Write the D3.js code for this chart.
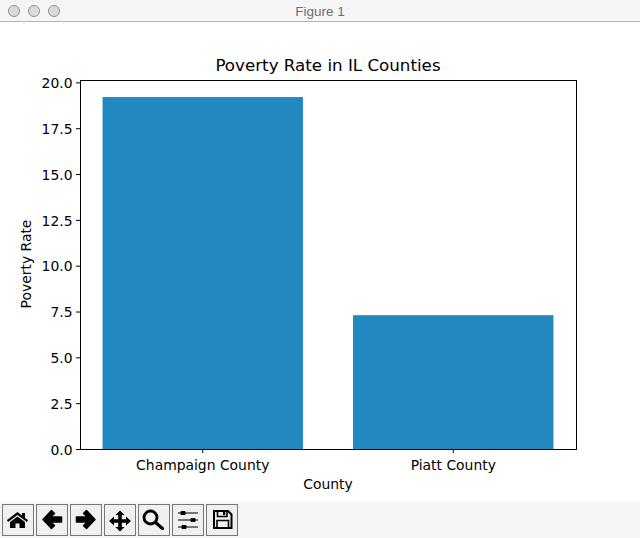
<!DOCTYPE html>
<html>
<head>
<meta charset="utf-8">
<script src="https://cdn.jsdelivr.net/npm/d3@7"></script>
<style>
  html, body { margin: 0; padding: 0; background: #fff; overflow: hidden; }
</style>
</head>
<body>
<div id="grafico"></div>
<script>
// Data
const counties = ["Champaign County", "Piatt County"];
const povertyRates = [19.2, 7.3];
const yTicks = [0, 2.5, 5, 7.5, 10, 12.5, 15, 17.5, 20];
const yMax = 20.13;

const ancho = 640, alto = 538;
const margen = { top: 80, right: 64, bottom: 89, left: 80 };
const fuente = "'DejaVu Sans', sans-serif";

const svg = d3.select("#grafico").append("svg")
    .attr("width", ancho)
    .attr("height", alto)
    .style("display", "block");

// Window chrome
svg.append("rect").attr("width", ancho).attr("height", 22).attr("fill", "#f6f6f6");
svg.append("line").attr("x1", 0).attr("x2", ancho).attr("y1", 21.5).attr("y2", 21.5).attr("stroke", "#b4b4b4");
[14, 34, 54].forEach(cx => {
    svg.append("circle").attr("cx", cx).attr("cy", 11).attr("r", 5.5)
        .attr("fill", "#dcdcdc").attr("stroke", "#8f8f8f");
});
svg.append("text").attr("x", 320).attr("y", 15.5).attr("text-anchor", "middle")
    .style("font-family", "'Liberation Sans', sans-serif").style("font-size", "13.5px")
    .attr("fill", "#6e6e6e").text("Figure 1");

// Toolbar
svg.append("rect").attr("y", 502).attr("width", ancho).attr("height", 36).attr("fill", "#f5f5f5");

const iconos = [
    // home
    g => {
        g.append("path").attr("d", "M5 16 L15.5 8 L20 11.5 V9 H23 V14 L26 16 L25 18 L15.5 11 L6 18 Z");
        g.append("path").attr("d", "M8 18 L15.5 12.5 L23 18 V24 H17.5 V19.5 H13.5 V24 H8 Z");
    },
    // back
    g => g.append("path").attr("d", "M7 15.5 L15.5 6.5 L18.5 9.5 L14.5 13 H25.5 V18 H14.5 L18.5 21.5 L15.5 24.5 Z").attr("stroke", "#000").attr("stroke-width", 1.5).attr("stroke-linejoin", "round"),
    // forward
    g => g.append("path").attr("d", "M25 15.5 L16.5 6.5 L13.5 9.5 L17.5 13 H6.5 V18 H17.5 L13.5 21.5 L16.5 24.5 Z").attr("stroke", "#000").attr("stroke-width", 1.5).attr("stroke-linejoin", "round"),
    // move
    g => g.append("path").attr("d", "M16 6.5 L20.5 11 H17.8 V15.2 H22 V12.5 L27 17 L22 21.5 V18.8 H17.8 V23 H20.5 L16 27.5 L11.5 23 H14.2 V18.8 H10 V21.5 L5 17 L10 12.5 V15.2 H14.2 V11 H11.5 Z"),
    // zoom
    g => {
        g.append("circle").attr("cx", 12.5).attr("cy", 13.5).attr("r", 6.5).attr("fill", "none").attr("stroke", "#000").attr("stroke-width", 2.8);
        g.append("line").attr("x1", 17.5).attr("y1", 18.5).attr("x2", 24.5).attr("y2", 24.5).attr("stroke", "#000").attr("stroke-width", 3.2).attr("stroke-linecap", "round");
    },
    // sliders
    g => {
        [[9, 11], [16, 21], [23, 12]].forEach(([y, x]) => {
            g.append("line").attr("x1", 6).attr("x2", 26).attr("y1", y).attr("y2", y).attr("stroke", "#222").attr("stroke-width", 1.2);
            g.append("rect").attr("x", x - 2.5).attr("y", y - 2).attr("width", 5).attr("height", 4).attr("rx", 1);
        });
    },
    // save
    g => {
        g.append("path").attr("d", "M8 7 H22 L25.5 10.5 V24 H8 Z").attr("fill", "none").attr("stroke", "#000").attr("stroke-width", 2);
        g.append("path").attr("d", "M11.5 7 V12.5 H21 V7").attr("fill", "none").attr("stroke", "#000").attr("stroke-width", 1.6);
        g.append("rect").attr("x", 17).attr("y", 8).attr("width", 2.2).attr("height", 3);
        g.append("path").attr("d", "M11 24 V16.5 H22.5 V24").attr("fill", "none").attr("stroke", "#000").attr("stroke-width", 1.6);
    }
];
iconos.forEach((dibujar, i) => {
    const g = svg.append("g").attr("transform", `translate(${2 + i * 34},504)`);
    g.append("rect").attr("x", 0.5).attr("y", 0.5).attr("width", 31).attr("height", 31)
        .attr("fill", "#f0f0f0").attr("stroke", "#777");
    dibujar(g);
});

// Scales
const escalaX = d3.scaleBand()
    .domain(counties)
    .range([margen.left, ancho - margen.right])
    .paddingInner(0.2)
    .paddingOuter(0.09);

const escalaY = d3.scaleLinear()
    .domain([0, yMax])
    .range([alto - margen.bottom, margen.top]);

// Bars
svg.selectAll("rect.barra")
    .data(counties)
    .enter()
    .append("rect")
    .attr("class", "barra")
    .attr("x", d => escalaX(d))
    .attr("y", (d, i) => escalaY(povertyRates[i]))
    .attr("width", escalaX.bandwidth())
    .attr("height", (d, i) => escalaY(0) - escalaY(povertyRates[i]))
    .attr("fill", "#2288c0");

// Axes
const ejeX = svg.append("g")
    .attr("transform", `translate(0,${alto - margen.bottom})`)
    .call(d3.axisBottom(escalaX).tickSize(4).tickPadding(7.5).tickSizeOuter(0));

const ejeY = svg.append("g")
    .attr("transform", `translate(${margen.left},0)`)
    .call(d3.axisLeft(escalaY).tickValues(yTicks).tickFormat(d3.format(".1f")).tickSize(4).tickPadding(3.5).tickSizeOuter(0));

[ejeX, ejeY].forEach(eje => {
    eje.select(".domain").remove();
    eje.selectAll("text").style("font-family", fuente).style("font-size", "13.9px").attr("fill", "#000");
    eje.selectAll("line").attr("stroke", "#000").attr("stroke-width", 1);
});
// labels sit a bit lower than d3's default centring
ejeY.selectAll("text").attr("y", 0.8);

// Frame
svg.append("rect")
    .attr("x", margen.left + 0.5)
    .attr("y", margen.top + 0.5)
    .attr("width", ancho - margen.right - margen.left)
    .attr("height", alto - margen.bottom - margen.top)
    .attr("fill", "none")
    .attr("stroke", "#000")
    .attr("stroke-width", 1);

// Titles
svg.append("text")
    .attr("x", 328)
    .attr("y", 71)
    .attr("text-anchor", "middle")
    .style("font-family", fuente)
    .style("font-size", "16.7px")
    .text("Poverty Rate in IL Counties");

svg.append("text")
    .attr("x", 328)
    .attr("y", 489)
    .attr("text-anchor", "middle")
    .style("font-family", fuente)
    .style("font-size", "13.9px")
    .text("County");

svg.append("text")
    .attr("transform", "translate(31,264) rotate(-90)")
    .attr("text-anchor", "middle")
    .style("font-family", fuente)
    .style("font-size", "13.9px")
    .text("Poverty Rate");
</script>
</body>
</html>
